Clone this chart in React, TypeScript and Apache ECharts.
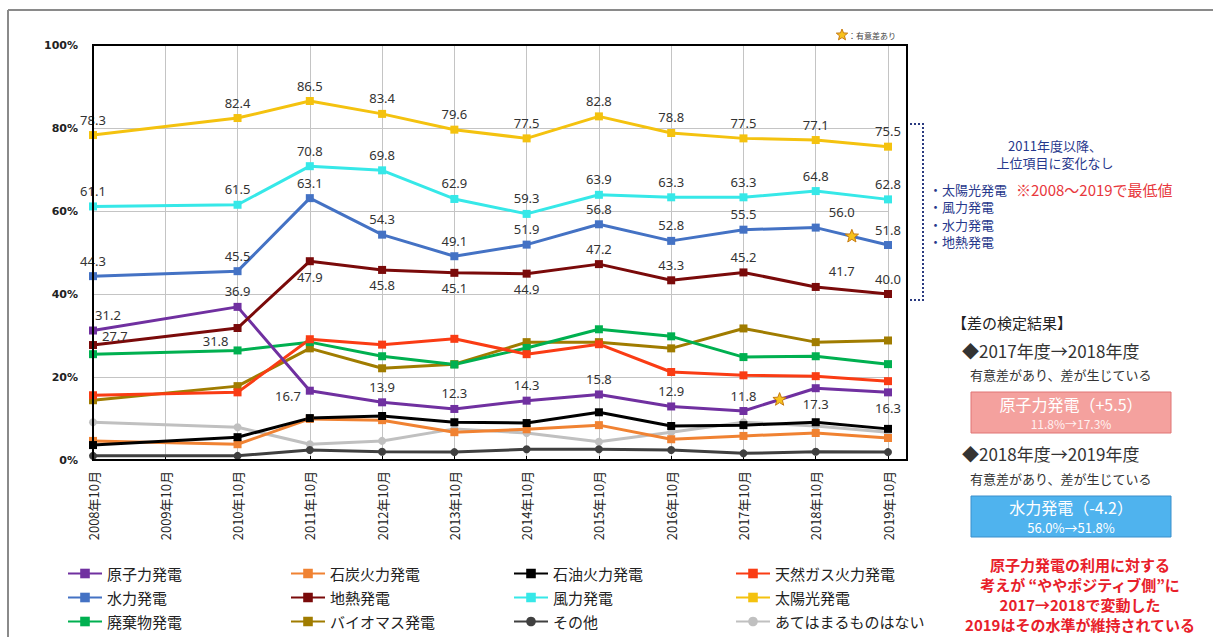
import React, { useEffect, useRef } from 'react';
import * as echarts from 'echarts';

const categories = ['2008年10月', '2009年10月', '2010年10月', '2011年10月', '2012年10月', '2013年10月', '2014年10月', '2015年10月', '2016年10月', '2017年10月', '2018年10月', '2019年10月'];

const nuclear = [31.2, null, 36.9, 16.7, 13.9, 12.3, 14.3, 15.8, 12.9, 11.8, 17.3, 16.3];
const coal = [4.6, null, 3.8, 9.9, 9.6, 6.7, 7.4, 8.4, 5.0, 5.8, 6.5, 5.3];
const oil = [3.6, null, 5.5, 10.1, 10.6, 9.1, 8.9, 11.5, 8.2, 8.4, 9.1, 7.5];
const gas = [15.6, null, 16.3, 29.1, 27.8, 29.2, 25.5, 27.9, 21.2, 20.4, 20.2, 19.0];
const hydro = [44.3, null, 45.5, 63.1, 54.3, 49.1, 51.9, 56.8, 52.8, 55.5, 56.0, 51.8];
const geothermal = [27.7, null, 31.8, 47.9, 45.8, 45.1, 44.9, 47.2, 43.3, 45.2, 41.7, 40.0];
const wind = [61.1, null, 61.5, 70.8, 69.8, 62.9, 59.3, 63.9, 63.3, 63.3, 64.8, 62.8];
const solar = [78.3, null, 82.4, 86.5, 83.4, 79.6, 77.5, 82.8, 78.8, 77.5, 77.1, 75.5];
const waste = [25.5, null, 26.4, 28.4, 25.0, 23.0, 27.0, 31.5, 29.8, 24.8, 25.0, 23.1];
const biomass = [14.4, null, 17.8, 26.9, 22.1, 23.1, 28.4, 28.4, 26.9, 31.7, 28.4, 28.8];
const other = [1.0, null, 1.0, 2.4, 2.0, 1.9, 2.6, 2.6, 2.4, 1.6, 2.0, 1.9];
const noneApply = [9.1, null, 7.9, 3.8, 4.6, 7.5, 6.5, 4.4, 6.7, 9.1, 8.2, 6.7];

const seriesNames = ['原子力発電', '石炭火力発電', '石油火力発電', '天然ガス火力発電', '水力発電', '地熱発電', '風力発電', '太陽光発電', '廃棄物発電', 'バイオマス発電', 'その他', 'あてはまるものはない'];

// label placement styles (not data)
type Spec = { pos: string; off?: number[] } | null;
const T: Spec = { pos: 'top' };
const B: Spec = { pos: 'bottom' };
const allTop: Spec[] = categories.map(() => T);
const hydroLabels: Spec[] = [T, null, T, T, T, T, T, T, T, T, { pos: 'top', off: [26, 0] }, T];
const geoLabels: Spec[] = [{ pos: 'right', off: [0, -9] }, null, { pos: 'left', off: [0, 13] }, B, B, B, B, T, T, T, { pos: 'top', off: [26, 0] }, T];
const nuclearLabels: Spec[] = [{ pos: 'top', off: [15, 0] }, null, T, { pos: 'left', off: [0, 5] }, T, T, T, T, T, T, B, B];

const JP = '"Noto Sans CJK JP", "Noto Sans", sans-serif';

function buildData(values: (number | null)[], specs?: Spec[]) {
  return values.map((v, i) => {
    if (v == null) return null;
    const s = specs ? specs[i] : null;
    if (!s) return { value: v };
    return { value: v, label: { show: true, position: s.pos, offset: s.off || [0, 0] } };
  });
}

function starPoints(cx: number, cy: number, R: number, r: number) {
  const pts: number[][] = [];
  for (let k = 0; k < 10; k++) {
    const ang = -Math.PI / 2 + (k * Math.PI) / 5;
    const rad = k % 2 === 0 ? R : r;
    pts.push([cx + rad * Math.cos(ang), cy + rad * Math.sin(ang)]);
  }
  return pts;
}

export default function App() {
  const ref = useRef<HTMLDivElement>(null);
  useEffect(() => {
    if (!ref.current) return;
    const chart = echarts.init(ref.current, null, { renderer: 'svg' });

    const mk = (name: string, data: (number | null)[], color: string, symbol: string, specs?: Spec[], z = 2) => ({
      name,
      type: 'line',
      data: buildData(data, specs),
      connectNulls: true,
      symbol,
      symbolSize: 8,
      z,
      lineStyle: { width: 3, color },
      itemStyle: { color },
      label: {
        show: false,
        fontSize: 13,
        color: '#333',
        fontFamily: '"Noto Sans", sans-serif',
        distance: 5,
        formatter: (p: any) => Number(p.value).toFixed(1),
      },
      emphasis: { disabled: true },
    });

    const series = [
      mk(seriesNames[11], noneApply, '#C0C0C0', 'circle'),
      mk(seriesNames[10], other, '#404040', 'circle'),
      mk(seriesNames[1], coal, '#F08232', 'rect'),
      mk(seriesNames[2], oil, '#000000', 'rect'),
      mk(seriesNames[9], biomass, '#A07C00', 'rect'),
      mk(seriesNames[8], waste, '#00B050', 'rect'),
      mk(seriesNames[3], gas, '#FA3C14', 'rect'),
      mk(seriesNames[0], nuclear, '#7030A0', 'rect', nuclearLabels, 3),
      mk(seriesNames[5], geothermal, '#7A0A0A', 'rect', geoLabels, 3),
      mk(seriesNames[4], hydro, '#4472C4', 'rect', hydroLabels, 3),
      mk(seriesNames[6], wind, '#36E8E8', 'rect', allTop, 3),
      mk(seriesNames[7], solar, '#F4C20F', 'rect', allTop, 3),
    ];

    const legendCols = [
      { left: 62, data: [seriesNames[0], seriesNames[4], seriesNames[8]] },
      { left: 285, data: [seriesNames[1], seriesNames[5], seriesNames[9]] },
      { left: 508, data: [seriesNames[2], seriesNames[6], seriesNames[10]] },
      { left: 730, data: [seriesNames[3], seriesNames[7], seriesNames[11]] },
    ];

    chart.setOption({
      animation: false,
      backgroundColor: '#ffffff',
      grid: { left: 93, top: 45, right: 325, bottom: 177, containLabel: false },
      xAxis: {
        type: 'category',
        data: categories,
        boundaryGap: false,
        axisLine: { show: true, lineStyle: { color: '#000', width: 2 } },
        axisTick: { show: true, inside: true, length: 4, lineStyle: { color: '#000' } },
        axisLabel: { rotate: 90, margin: 11, fontSize: 13, color: '#222', fontFamily: JP, interval: 0 },
        splitLine: { show: true, lineStyle: { color: '#C4C4C4', width: 1 } },
      },
      yAxis: {
        type: 'value',
        min: 0,
        max: 100,
        interval: 20,
        axisLine: { show: true, lineStyle: { color: '#000', width: 2 } },
        axisTick: { show: false },
        axisLabel: { formatter: '{value}%', margin: 15, fontSize: 11, fontWeight: 'bold', color: '#222', fontFamily: '"DejaVu Sans", sans-serif' },
        splitLine: { show: true, lineStyle: { color: '#C4C4C4', width: 1 } },
      },
      legend: legendCols.map((c) => ({
        orient: 'vertical',
        left: c.left,
        top: 561,
        data: c.data,
        itemGap: 9,
        itemWidth: 34,
        itemHeight: 12,
        selectedMode: false,
        textStyle: { fontSize: 15, color: '#222', fontFamily: JP },
      })),
      series,
    });

    const mid = (arr: (number | null)[], i: number) => {
      const a = chart.convertToPixel({ gridIndex: 0 }, [i, arr[i] as number]) as number[];
      const b = chart.convertToPixel({ gridIndex: 0 }, [i + 1, arr[i + 1] as number]) as number[];
      return [(a[0] + b[0]) / 2, (a[1] + b[1]) / 2];
    };
    const s1 = mid(hydro, 10);
    const s2 = mid(nuclear, 9);
    const starStyle = { fill: '#F7C21B', stroke: '#C77A10', lineWidth: 1 };

    const navy = '#27388C';
    const txt = (text: string, x: number, y: number, font: string, fill: string, align = 'left') => ({
      type: 'text',
      x,
      y,
      z: 20,
      style: { text, font, fill, textAlign: align, textVerticalAlign: 'middle' },
    });

    const elements: any[] = [
      { type: 'line', z: 20, shape: { x1: 8, y1: 10, x2: 1213, y2: 10 }, style: { stroke: '#8A8A8A', lineWidth: 2 } },
      { type: 'line', z: 20, shape: { x1: 8, y1: 10, x2: 8, y2: 637 }, style: { stroke: '#8A8A8A', lineWidth: 2 } },
      { type: 'rect', z: 20, shape: { x: 93, y: 45, width: 814, height: 415 }, style: { fill: 'none', stroke: '#000', lineWidth: 2 } },
      { type: 'polygon', z: 30, shape: { points: starPoints(s1[0], s1[1], 7, 3) }, style: starStyle },
      { type: 'polygon', z: 30, shape: { points: starPoints(s2[0], s2[1], 7, 3) }, style: starStyle },
      { type: 'polygon', z: 30, shape: { points: starPoints(842, 35, 6, 2.6) }, style: starStyle },
      txt('：有意差あり', 848, 35, `8px ${JP}`, '#444'),
      { type: 'polyline', z: 20, shape: { points: [[910, 124], [923, 124], [923, 300], [910, 300]] }, style: { fill: 'none', stroke: '#2A3A80', lineWidth: 2, lineDash: [2, 2] } },
      txt('2011年度以降、', 1055, 145, `13px ${JP}`, navy, 'center'),
      txt('上位項目に変化なし', 1055, 162, `13px ${JP}`, navy, 'center'),
      txt('・太陽光発電', 929, 189, `13px ${JP}`, navy),
      txt('※2008～2019で最低値', 1016, 189, `15px ${JP}`, '#E8383D'),
      txt('・風力発電', 929, 206.5, `13px ${JP}`, navy),
      txt('・水力発電', 929, 224, `13px ${JP}`, navy),
      txt('・地熱発電', 929, 241.5, `13px ${JP}`, navy),
      txt('【差の検定結果】', 952, 322, `15px ${JP}`, '#222'),
      txt('◆2017年度→2018年度', 962, 350, `17px ${JP}`, '#333'),
      txt('有意差があり、差が生じている', 970, 374, `13px ${JP}`, '#333'),
      { type: 'rect', z: 20, shape: { x: 971, y: 392, width: 200, height: 41 }, style: { fill: '#F4A19E', stroke: '#E07474', lineWidth: 1 } },
      txt('原子力発電（+5.5）', 1071, 404, `16px ${JP}`, '#ffffff', 'center'),
      txt('11.8%→17.3%', 1071, 423, `12px ${JP}`, '#FFF1F1', 'center'),
      txt('◆2018年度→2019年度', 962, 453, `17px ${JP}`, '#333'),
      txt('有意差があり、差が生じている', 970, 478, `13px ${JP}`, '#333'),
      { type: 'rect', z: 20, shape: { x: 971, y: 496, width: 200, height: 41 }, style: { fill: '#4FB3EE', stroke: '#3A8FCB', lineWidth: 1 } },
      txt('水力発電（-4.2）', 1071, 507, `16px ${JP}`, '#ffffff', 'center'),
      txt('56.0%→51.8%', 1071, 527, `13px ${JP}`, '#ffffff', 'center'),
      txt('原子力発電の利用に対する', 1080, 564, `bold 15px ${JP}`, '#E8202A', 'center'),
      txt('考えが “ややポジティブ側”に', 1080, 584, `bold 15px ${JP}`, '#E8202A', 'center'),
      txt('2017→2018で変動した', 1080, 604, `bold 15px ${JP}`, '#E8202A', 'center'),
      txt('2019はその水準が維持されている', 1080, 624, `bold 15px ${JP}`, '#E8202A', 'center'),
    ];

    chart.setOption({ graphic: { elements } });

    return () => chart.dispose();
  }, []);

  return <div ref={ref} style={{ position: 'absolute', left: 0, top: 0, width: 1213, height: 637 }} />;
}
